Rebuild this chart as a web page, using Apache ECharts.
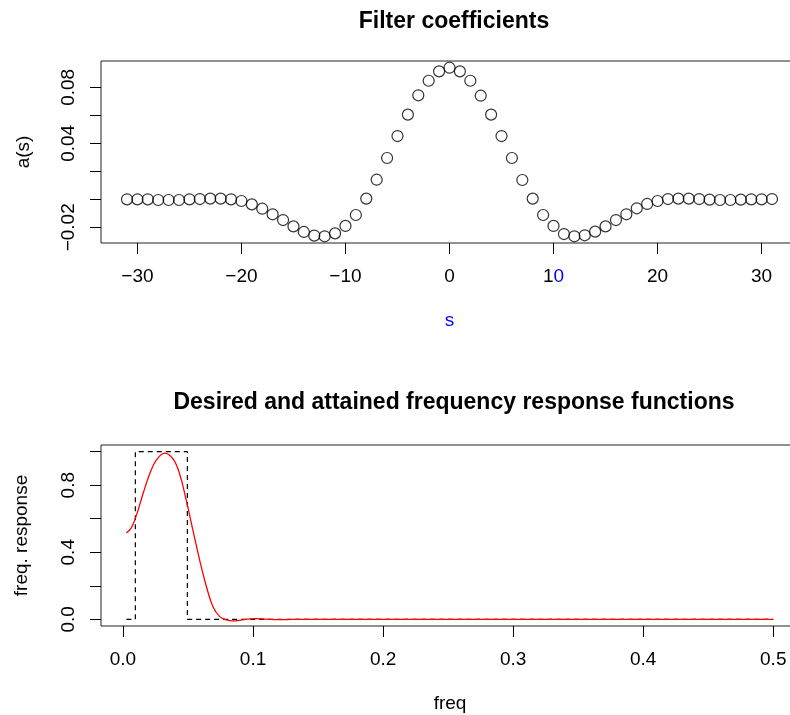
<!DOCTYPE html>
<html>
<head>
<meta charset="utf-8">
<script src="https://cdn.jsdelivr.net/npm/echarts@6/dist/echarts.min.js"></script>
<style>
  html, body { margin: 0; padding: 0; overflow: hidden; background: #fff; }
  #main { width: 800px; height: 715px; }
</style>
</head>
<body>
<div id="main"></div>
<script>
// filter coefficients a(s), s = -31..31
var lags = [];
for (var i = -31; i <= 31; i++) lags.push(i);
var coefs = [
  0.0000, 0.0000, 0.0000, -0.0005, -0.0005, -0.0005, 0.0000, 0.0002, 0.0005, 0.0005, 0.0000,
  -0.0012, -0.0036, -0.0067, -0.0107, -0.0148, -0.0193, -0.0233, -0.0259, -0.0264, -0.0243,
  -0.0190, -0.0112, 0.0005, 0.0140, 0.0295, 0.0452, 0.0605, 0.0743, 0.0847, 0.0914,
  0.0940,
  0.0914, 0.0847, 0.0740, 0.0605, 0.0452, 0.0295, 0.0138, 0.0005, -0.0112, -0.0190,
  -0.0248, -0.0264, -0.0257, -0.0231, -0.0193, -0.0148, -0.0107, -0.0064, -0.0033, -0.0012,
  0.0002, 0.0005, 0.0005, 0.0002, -0.0002, -0.0005, -0.0005, -0.0002, 0.0000, 0.0000, 0.0002
];

// attained frequency response (red)
var respFreq = [0.0026, 0.0065, 0.0103, 0.0154, 0.0205, 0.0257, 0.0321, 0.0385, 0.0436, 0.0487,
  0.0538, 0.059, 0.0642, 0.0692, 0.0744, 0.0795, 0.0846, 0.0898, 0.0975, 0.1026,
  0.11, 0.12, 0.13, 0.15, 0.2, 0.3, 0.4, 0.5];
var respVals = [0.515, 0.547, 0.62, 0.749, 0.867, 0.951, 0.992, 0.957, 0.867, 0.709,
  0.531, 0.352, 0.194, 0.075, 0.016, -0.004, -0.010, -0.006, 0.002, 0.004,
  0.001, -0.002, -0.001, 0.000, 0.000, 0.000, 0.000, 0.000];

// desired frequency response (dashed)
var desFreq = [0.0026, 0.0095, 0.0095, 0.0495, 0.0495, 0.5];
var desVals = [0, 0, 1, 1, 0, 0];

// ticks and labels
var topXTicks = [-30, -20, -10, 0, 10, 20, 30];
var topYTicks = [-0.02, 0, 0.02, 0.04, 0.06, 0.08];
var topYLabels = [-0.02, 0.04, 0.08];
var botXTicks = [0, 0.1, 0.2, 0.3, 0.4, 0.5];
var botYTicks = [0, 0.2, 0.4, 0.6, 0.8, 1.0];
var botYLabels = [0, 0.4, 0.8];

var FONT = 'Liberation Sans';

function minus(s) { return String(s).replace('-', '\u2212'); }

var tickStyle = { show: true, length: 11, lineStyle: { color: '#000', width: 1 } };
var noLine = { show: false, onZero: false };

var chart = echarts.init(document.getElementById('main'));
chart.setOption({
  animation: false,
  backgroundColor: '#fff',
  title: [
    { text: 'Filter coefficients', left: 449, top: 5, textAlign: 'center',
      textStyle: { fontFamily: FONT, fontSize: 23, fontWeight: 'bold', color: '#000' } },
    { text: 'Desired and attained frequency response functions', left: 449, top: 386, textAlign: 'center',
      textStyle: { fontFamily: FONT, fontSize: 23, fontWeight: 'bold', color: '#000' } }
  ],
  grid: [
    { left: 101, top: 61, width: 697, height: 182, show: true, borderColor: '#222', borderWidth: 1 },
    { left: 101, top: 445, width: 698, height: 181, show: true, borderColor: '#222', borderWidth: 1 }
  ],
  xAxis: [{
    gridIndex: 0, type: 'value', min: -33.5, max: 33.5, position: 'bottom',
    name: 's', nameLocation: 'middle', nameGap: 68,
    nameTextStyle: { fontFamily: FONT, fontSize: 19, color: '#0000ff' },
    splitLine: { show: false }, axisLine: noLine,
    axisTick: Object.assign({ customValues: topXTicks }, tickStyle),
    axisLabel: {
      customValues: topXTicks, margin: 24, fontFamily: FONT, fontSize: 19, color: '#000',
      formatter: function (v) { return v === 10 ? '1{b|0}' : minus(v); },
      rich: { b: { fontFamily: FONT, fontSize: 19, color: '#0000ff' } }
    }
  }, {
    gridIndex: 1, type: 'value', min: -0.0169, max: 0.5198, position: 'bottom',
    name: 'freq', nameLocation: 'middle', nameGap: 68,
    nameTextStyle: { fontFamily: FONT, fontSize: 19, color: '#000' },
    splitLine: { show: false }, axisLine: noLine,
    axisTick: Object.assign({ customValues: botXTicks }, tickStyle),
    axisLabel: {
      customValues: botXTicks, margin: 24, fontFamily: FONT, fontSize: 19, color: '#000',
      formatter: function (v) { return v.toFixed(1); }
    }
  }],
  yAxis: [{
    gridIndex: 0, type: 'value', min: -0.0312, max: 0.0988, position: 'left',
    name: 'a(s)', nameLocation: 'middle', nameGap: 68,
    nameTextStyle: { fontFamily: FONT, fontSize: 19, color: '#000' },
    splitLine: { show: false }, axisLine: noLine,
    axisTick: Object.assign({ customValues: topYTicks }, tickStyle),
    axisLabel: {
      customValues: topYLabels, rotate: 90, margin: 23, fontFamily: FONT, fontSize: 19, color: '#000',
      formatter: function (v) { return minus(v.toFixed(2)); }
    }
  }, {
    gridIndex: 1, type: 'value', min: -0.04, max: 1.04, position: 'left',
    name: 'freq. response', nameLocation: 'middle', nameGap: 70,
    nameTextStyle: { fontFamily: FONT, fontSize: 19, color: '#000' },
    splitLine: { show: false }, axisLine: noLine,
    axisTick: Object.assign({ customValues: botYTicks }, tickStyle),
    axisLabel: {
      customValues: botYLabels, rotate: 90, margin: 23, fontFamily: FONT, fontSize: 19, color: '#000',
      formatter: function (v) { return v.toFixed(1); }
    }
  }],
  series: [{
    type: 'scatter', xAxisIndex: 0, yAxisIndex: 0,
    symbol: 'circle', symbolSize: 11,
    itemStyle: { color: 'rgba(0,0,0,0)', borderColor: '#000', borderWidth: 1.2 },
    data: lags.map(function (s, i) { return [s, coefs[i]]; })
  }, {
    type: 'line', xAxisIndex: 1, yAxisIndex: 1, showSymbol: false, symbol: 'none',
    lineStyle: { color: '#000', width: 1.2, type: [5, 4] },
    data: desFreq.map(function (f, i) { return [f, desVals[i]]; })
  }, {
    type: 'line', xAxisIndex: 1, yAxisIndex: 1, showSymbol: false, symbol: 'none', smooth: 0.4,
    lineStyle: { color: '#ff0000', width: 1.3 },
    data: respFreq.map(function (f, i) { return [f, respVals[i]]; })
  }]
});
</script>
</body>
</html>
